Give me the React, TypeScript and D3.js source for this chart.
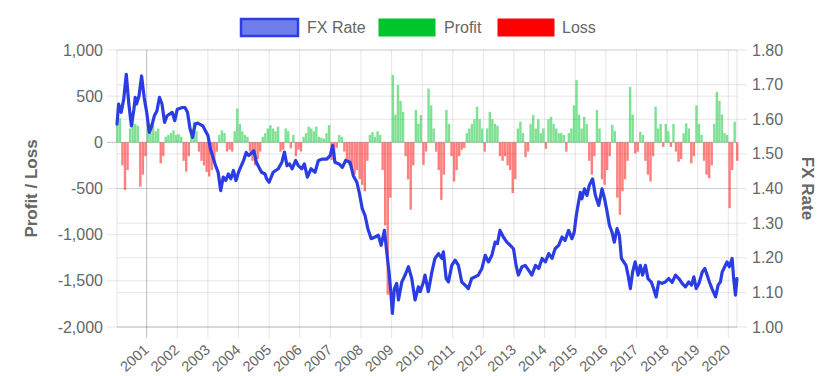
import React from "react";
import * as d3 from "d3";

// ---- data ----
const tickYears = [2001, 2002, 2003, 2004, 2005, 2006, 2007, 2008, 2009, 2010, 2011, 2012, 2013, 2014, 2015, 2016, 2017, 2018, 2019, 2020];
const leftTicks = [1000, 500, 0, -500, -1000, -1500, -2000];
const rightTicks = [1.0, 1.1, 1.2, 1.3, 1.4, 1.5, 1.6, 1.7, 1.8];
const startYear = 2000; // month offsets counted from Jan 2000

// FX rate: [month offset from Jan 2000, rate]
const fxPoints: [number, number][] = [
  [0.35,1.586],[1,1.644],[2,1.620],[3,1.658],[4,1.730],[5,1.644],[6,1.581],[7,1.629],[7.5,1.663],[8,1.644],[9,1.668],[10,1.725],[11,1.663],
  [12,1.620],[13,1.562],[14,1.581],[15,1.610],[16,1.624],[17,1.663],[18,1.644],[19,1.591],[20,1.610],[22,1.620],[23,1.596],
  [24,1.629],[26,1.634],[27,1.634],[28,1.620],[29,1.572],[30,1.548],[31,1.586],[32,1.589],[34,1.581],[35,1.567],
  [36,1.553],[37,1.514],[39,1.466],[40,1.447],[41,1.394],[42,1.433],[43,1.423],[44,1.442],[45,1.428],[46,1.452],[47,1.423],
  [48,1.447],[50,1.481],[51,1.504],[52,1.495],[54,1.509],[55,1.476],[57,1.447],[58.4,1.442],[59,1.428],
  [60,1.418],[61.6,1.447],[63.6,1.457],[65,1.476],[66,1.505],[67,1.466],[68,1.471],[69,1.457],[70.4,1.481],[71.4,1.466],
  [72.8,1.457],[73.8,1.471],[75,1.433],[76.4,1.457],[78,1.447],[79.3,1.481],[80.9,1.485],[82.6,1.485],[83.9,1.495],
  [84.9,1.524],[85.8,1.476],[87.4,1.471],[88.7,1.461],[90,1.481],[91.7,1.476],[93,1.437],[94.4,1.418],[95.3,1.389],
  [96.5,1.342],[97.6,1.322],[98.7,1.284],[100,1.255],[101.5,1.260],[102.8,1.265],[103.9,1.236],[105.2,1.279],[106.1,1.217],
  [107,1.159],[107.8,1.092],[108.3,1.039],[109.1,1.111],[110,1.126],[110.7,1.078],[112,1.130],[113.3,1.150],[114.6,1.174],
  [115.9,1.140],[117.2,1.078],[118.5,1.116],[119.2,1.102],[120.5,1.130],[121.1,1.150],[122.4,1.102],[123.8,1.159],
  [125,1.198],[126.4,1.212],[127.7,1.198],[128.3,1.217],[129.4,1.140],[130.3,1.130],[131.6,1.178],[132.9,1.193],
  [134.2,1.178],[135.5,1.130],[136.8,1.121],[138.1,1.111],[139.4,1.140],[140.7,1.145],[142,1.150],[143.4,1.169],
  [144.7,1.207],[146,1.188],[147.3,1.207],[148.6,1.245],[149.5,1.241],[150.5,1.279],[151.8,1.260],[153.2,1.245],
  [154.5,1.236],[155.8,1.226],[156.8,1.178],[157.7,1.150],[159.1,1.174],[160.4,1.178],[161.7,1.164],[163,1.150],
  [164.4,1.178],[165.7,1.169],[167,1.198],[168.3,1.188],[169.6,1.212],[170.9,1.198],[172.1,1.226],[173.5,1.236],
  [174.8,1.260],[176,1.250],[177.4,1.279],[178.7,1.255],[179.6,1.274],[180.4,1.322],[181.3,1.361],[182,1.389],
  [182.6,1.370],[183.6,1.399],[184.6,1.380],[185.5,1.409],[186.8,1.428],[187.9,1.380],[189.2,1.351],[190.5,1.399],
  [191.5,1.370],[192.5,1.332],[193.4,1.294],[194.4,1.274],[195.3,1.245],[196.4,1.284],[197.3,1.265],[198.1,1.198],
  [199,1.188],[199.9,1.178],[200.7,1.150],[201.6,1.111],[202.5,1.159],[203.5,1.188],[204.6,1.150],[205.5,1.178],
  [206.4,1.150],[207.5,1.178],[208.5,1.140],[209.8,1.130],[210.7,1.111],[211.7,1.087],[212.7,1.130],[214,1.126],
  [215.3,1.130],[216.6,1.140],[218,1.129],[219.3,1.150],[220.6,1.140],[221.9,1.126],[223.2,1.116],[224.5,1.130],
  [225.6,1.121],[226.5,1.145],[227.4,1.111],[228.5,1.126],[229.8,1.159],[230.8,1.169],[231.7,1.150],[232.6,1.130],
  [233.6,1.111],[235,1.087],[236,1.121],[236.9,1.130],[237.6,1.159],[238.6,1.174],[239.5,1.188],[240.4,1.174],
  [241.5,1.198],[242.1,1.140],[242.8,1.092],[243.4,1.140],
];

// Monthly profit / loss, Jan 2000 .. Apr 2020
const pnlMonthly = [
  200,260,-250,-515,-300,150,240,200,180,-480,-350,-150,
  150,205,180,120,150,-227,-150,60,80,100,130,80,
  90,60,-200,-317,-150,150,223,120,-100,-200,-250,-320,
  -370,-300,-200,-100,80,130,100,-100,-80,-100,120,367,
  200,120,80,60,-100,-200,-250,-180,-100,60,100,150,
  187,150,120,170,-100,-80,150,120,-65,80,-150,-80,
  -100,60,100,170,150,120,170,60,50,40,100,187,
  -190,-150,-60,80,60,-100,-200,-250,-300,-350,-300,-400,
  -460,-530,-200,80,110,60,120,80,-300,-900,-1650,-600,
  730,300,620,450,330,-150,-400,-730,-250,350,200,295,
  -245,-100,583,400,150,-100,-300,-623,-350,350,200,-150,
  -425,-300,-150,-80,-60,100,150,200,250,385,250,150,
  -100,150,330,250,200,180,-150,-200,-150,-250,-300,-550,
  -400,150,223,100,-160,-100,200,295,150,250,100,150,
  -70,250,277,200,150,100,100,80,-100,100,150,400,
  673,300,150,277,200,-200,-350,-150,350,150,-400,-460,
  -300,-150,190,120,-600,-785,-530,-400,-200,600,300,-120,
  -100,115,80,-200,-350,-425,-150,385,150,200,-50,200,
  120,-50,200,-100,-210,-180,100,205,150,-227,-150,400,
  200,80,-200,-350,-390,-250,200,547,450,300,100,80,
  -713,-300,223,-200,
];
const profitMonthly = pnlMonthly.map((v) => (v > 0 ? v : 0));
const lossMonthly = pnlMonthly.map((v) => (v < 0 ? v : 0));

const legendItems = [
  { label: "FX Rate", fill: "rgba(43,63,227,0.68)", stroke: "#2b3fe3" },
  { label: "Profit", fill: "#00c42b", stroke: "#00c42b" },
  { label: "Loss", fill: "#ff0000", stroke: "#ff0000" },
];

// ---- layout ----
const W = 840;
const H = 376;
const plot = { left: 117, right: 737, top: 50, bottom: 327 };
const FONT = "'Liberation Sans', Arial, Helvetica, sans-serif";
const TEXT = "#666";
const GRID = "rgba(0,0,0,0.1)";
const ZERO = "rgba(0,0,0,0.25)";

export default function App() {
  const x = d3.scaleLinear().domain([2000.03, 2020.284]).range([plot.left, plot.right]);
  const yL = d3.scaleLinear().domain([-2000, 1000]).range([plot.bottom, plot.top]);
  const yR = d3.scaleLinear().domain([1.0, 1.8]).range([plot.bottom, plot.top]);
  const mx = (m: number) => x(startYear + m / 12);

  const line = d3
    .line<[number, number]>()
    .x((d) => mx(d[0]))
    .y((d) => yR(d[1]));

  const barW = 2.4;
  const legendX = [241, 379, 498];
  const legendW = [57, 56, 56];
  const legendTextX = [307, 444, 562];

  return (
    <svg width={W} height={H} style={{ position: "absolute", left: 0, top: 0, background: "#fff" }} fontFamily={FONT}>
      {/* horizontal grid - right axis */}
      {rightTicks.map((t) => (
        <line key={"gr" + t} x1={plot.left} x2={plot.right + 10} y1={yR(t)} y2={yR(t)} stroke={GRID} />
      ))}
      {/* horizontal grid - left axis */}
      {leftTicks.map((t) => (
        <line key={"gl" + t} x1={plot.left - 10} x2={plot.right} y1={yL(t)} y2={yL(t)} stroke={t === 0 ? ZERO : GRID} />
      ))}
      {/* vertical grid */}
      <line x1={plot.left} x2={plot.left} y1={plot.top} y2={plot.bottom} stroke={GRID} />
      <line x1={plot.right} x2={plot.right} y1={plot.top} y2={plot.bottom} stroke={GRID} />
      {tickYears.map((yr, i) => (
        <line key={"v" + yr} x1={x(yr)} x2={x(yr)} y1={plot.top} y2={plot.bottom + 11} stroke={i === 0 ? ZERO : GRID} />
      ))}
      <line x1={plot.left} x2={plot.right} y1={plot.bottom} y2={plot.bottom} stroke={GRID} />

      {/* bars */}
      <g opacity={0.5}>
        {profitMonthly.map((v, i) =>
          v > 0 ? (
            <rect key={"p" + i} x={mx(i + 0.5) - barW / 2} width={barW} y={yL(v)} height={yL(0) - yL(v)} fill="#00c42b" />
          ) : null
        )}
        {lossMonthly.map((v, i) =>
          v < 0 ? (
            <rect key={"l" + i} x={mx(i + 0.5) - barW / 2} width={barW} y={yL(0)} height={yL(v) - yL(0)} fill="#ff0000" />
          ) : null
        )}
      </g>

      {/* FX line */}
      <path d={line(fxPoints) || ""} fill="none" stroke="#2a3de2" strokeWidth={3.2} strokeLinejoin="round" strokeLinecap="round" />

      {/* left axis labels */}
      {leftTicks.map((t) => (
        <text key={"tl" + t} x={103} y={yL(t)} dy="0.35em" textAnchor="end" fontSize={16} fill={TEXT}>
          {t.toLocaleString("en-US")}
        </text>
      ))}
      {/* right axis labels */}
      {rightTicks.map((t) => (
        <text key={"tr" + t} x={752} y={yR(t)} dy="0.35em" textAnchor="start" fontSize={16} fill={TEXT}>
          {t.toFixed(2)}
        </text>
      ))}
      {/* x labels */}
      {tickYears.map((yr) => (
        <text key={"tx" + yr} transform={`translate(${x(yr) + 3},${351}) rotate(-42)`} textAnchor="end" fontSize={14.5} fill={TEXT}>
          {yr}
        </text>
      ))}

      {/* axis titles */}
      <text transform={`translate(37,${(plot.top + plot.bottom) / 2}) rotate(-90)`} textAnchor="middle" fontSize={17} fontWeight="bold" fill={TEXT}>
        Profit / Loss
      </text>
      <text transform={`translate(802,${(plot.top + plot.bottom) / 2}) rotate(90)`} textAnchor="middle" fontSize={17} fontWeight="bold" fill={TEXT}>
        FX Rate
      </text>

      {/* legend */}
      {legendItems.map((it, i) => (
        <g key={it.label}>
          <rect x={legendX[i]} y={19} width={legendW[i]} height={17} fill={it.fill} stroke={it.stroke} strokeWidth={i === 0 ? 2.5 : 1} />
          <text x={legendTextX[i]} y={33} fontSize={16} fill={TEXT}>
            {it.label}
          </text>
        </g>
      ))}
    </svg>
  );
}
